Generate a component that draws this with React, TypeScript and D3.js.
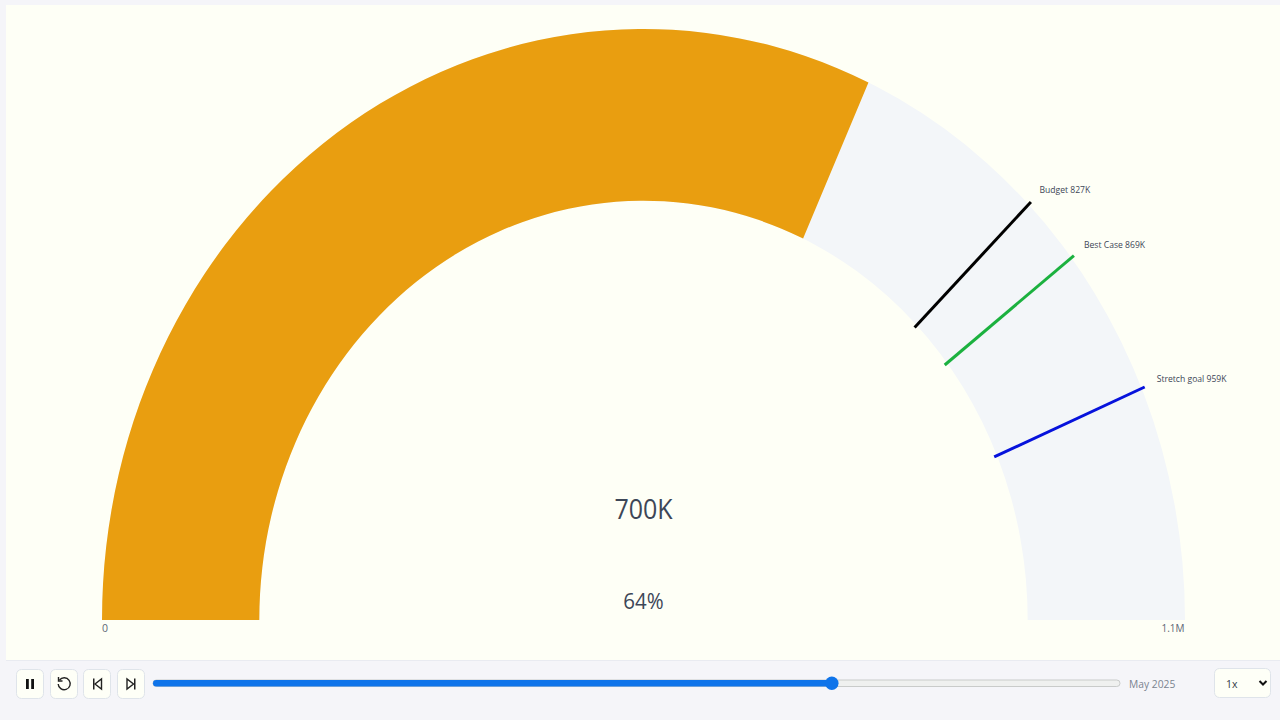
import React from "react";
import * as d3 from "d3";

const gaugeMin = 0;
const gaugeMax = 1100;
const currentValue = 700;
const valueLabel = "700K";
const percentLabel = "64%";
const minLabel = "0";
const maxLabel = "1.1M";
const targetNames = ["Budget", "Best Case", "Stretch goal"];
const targetValues = [827, 869, 959];
const targetLabels = ["827K", "869K", "959K"];
const targetColors = ["#000000", "#1bb13f", "#0612dc"];
const sliderPosition = 0.702;
const dateLabel = "May 2025";
const speedLabel = "1x";

const W = 1280;
const H = 720;
const FONT = "'Open Sans', sans-serif";
const TEXT = "#3d4657";
const cx = 643.5;
const cy = 620;
const rx = 541.5;
const ry = 591;
const innerRatio = 0.7095;
const sy = ry / rx;

function Btn({ x, children }: { x: number; children: React.ReactNode }) {
  return (
    <g transform={`translate(${x},669)`}>
      <rect x={0.5} y={0.5} width={27} height={29} rx={5} fill="#fefff7" stroke="#dfe4ea" />
      {children}
    </g>
  );
}

export default function App() {
  const angle = d3.scaleLinear().domain([gaugeMin, gaugeMax]).range([-Math.PI / 2, Math.PI / 2]);
  const arc = d3.arc().innerRadius(rx * innerRatio).outerRadius(rx);
  const bg = arc({ startAngle: angle(gaugeMin), endAngle: angle(gaugeMax) } as any) as string;
  const fg = arc({ startAngle: angle(gaugeMin), endAngle: angle(currentValue) } as any) as string;
  const slider = d3.scaleLinear().domain([0, 1]).range([153, 1120]);
  const thumb = slider(sliderPosition);

  const label = (txt: string, x: number, y: number, size: number, anchor: string, fill = TEXT) => (
    <text
      key={txt}
      transform={`translate(${x},${y}) scale(1,${sy})`}
      fontSize={size}
      textAnchor={anchor as any}
      fill={fill}
      fontFamily={FONT}
    >
      {txt}
    </text>
  );

  return (
    <svg
      width={W}
      height={H}
      viewBox={`0 0 ${W} ${H}`}
      style={{ position: "fixed", left: 0, top: 0, display: "block" }}
    >
      <rect width={W} height={H} fill="#f5f5f9" />
      <rect x={6} y={5} width={W - 6} height={655} fill="#fefff6" />

      <g transform={`translate(${cx},${cy}) scale(1,${sy})`}>
        <path d={bg} fill="#f3f6f9" />
        <path d={fg} fill="#e99e10" />
      </g>

      {targetValues.map((v, i) => {
        const a = angle(v);
        const r0 = rx * 0.704;
        const r1 = rx * 1.006;
        const x1 = cx + r1 * Math.sin(a);
        const y1 = cy - r1 * Math.cos(a) * sy;
        const x0 = cx + r0 * Math.sin(a);
        const y0 = cy - r0 * Math.cos(a) * sy;
        return (
          <g key={targetNames[i]}>
            <line x1={x0} y1={y0} x2={x1} y2={y1} stroke={targetColors[i]} strokeWidth={3} />
            {label(`${targetNames[i]} ${targetLabels[i]}`, x1 + (i === 2 ? 12 : i === 0 ? 8.5 : 10), y1 - (i === 0 ? 9 : i === 1 ? 8 : 5), 8.6, "start")}
          </g>
        );
      })}

      {label(valueLabel, 643.5, 519, 25, "middle")}
      {label(percentLabel, 643.5, 608.5, 20.5, "middle")}
      {label(minLabel, 102, 632, 10.5, "start", "#5d6675")}
      {label(maxLabel, 1184.5, 632, 10, "end", "#5d6675")}

      <rect x={6} y={660} width={W - 6} height={1} fill="#e9ebf1" />

      <Btn x={16}>
        <rect x={10} y={10} width={2.8} height={10} fill="#111" />
        <rect x={15.2} y={10} width={2.8} height={10} fill="#111" />
      </Btn>
      <Btn x={50}>
        <path d="M9.5 11 A6 6 0 1 1 8.2 15" fill="none" stroke="#222" strokeWidth={1.4} />
        <path d="M8.5 8 V12 H12.5" fill="none" stroke="#222" strokeWidth={1.4} />
      </Btn>
      <Btn x={83}>
        <rect x={10} y={9.5} width={1.5} height={11} fill="#222" />
        <path d="M18.5 10 V20 L12 15 Z" fill="none" stroke="#222" strokeWidth={1.4} />
      </Btn>
      <Btn x={117}>
        <rect x={17} y={9.5} width={1.5} height={11} fill="#222" />
        <path d="M10 10 V20 L16.5 15 Z" fill="none" stroke="#222" strokeWidth={1.4} />
      </Btn>

      <rect x={slider(0)} y={680} width={slider(1) - slider(0)} height={6.5} rx={3.25} fill="#eff0ef" stroke="#c9cbca" />
      <rect x={slider(0)} y={680} width={thumb - slider(0)} height={6.5} rx={3.25} fill="#0f74ea" />
      <circle cx={thumb} cy={683.2} r={6.7} fill="#0f74ea" />

      {label(dateLabel, 1129, 688, 10.3, "start", "#7b8490")}

      <rect x={1214.5} y={668.5} width={56} height={29} rx={5} fill="#fefff7" stroke="#dfe4ea" />
      {label(speedLabel, 1226, 688, 10.5, "start", "#333b47")}
      <path d="M1259.5 681 L1263 684.5 L1266.5 681" fill="none" stroke="#111" strokeWidth={2} />
    </svg>
  );
}
